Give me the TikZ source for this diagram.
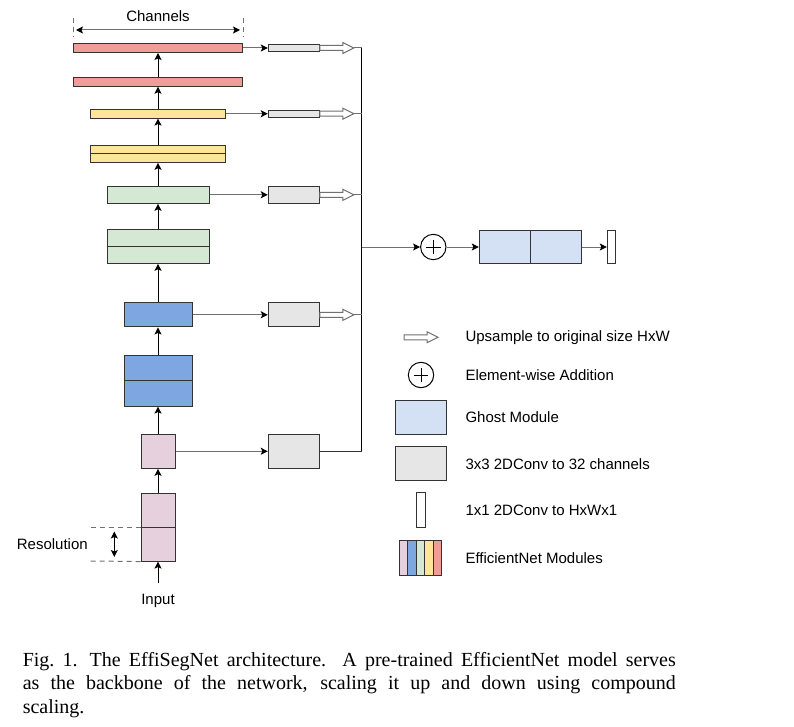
\documentclass[tikz,border=0pt]{standalone}
\usepackage{fontspec}
\setmainfont{Liberation Serif}
\setsansfont{Liberation Sans}
\usepackage{tikz}
\usetikzlibrary{arrows.meta,positioning}
\definecolor{modred}{HTML}{F19C99}
\definecolor{modyellow}{HTML}{FFE599}
\definecolor{modgreen}{HTML}{D5E8D4}
\definecolor{modblue}{HTML}{7EA6E0}
\definecolor{modpink}{HTML}{E6D0DE}
\definecolor{convgrey}{HTML}{E6E6E6}
\definecolor{ghostblue}{HTML}{D4E1F5}
\definecolor{edgegrey}{HTML}{333333}
\definecolor{linkgrey}{HTML}{707070}
\tikzstyle{every node}=[font=\sffamily\fontsize{15}{18}\selectfont]
\tikzstyle{block}=[draw=edgegrey,rectangle,inner sep=0pt]
\tikzstyle{legendtext}=[anchor=west,inner sep=0pt]
\tikzstyle{up}=[-{Stealth[length=7pt,width=7pt,inset=1.5pt]}]
\tikzstyle{link}=[draw=linkgrey,-{Stealth[length=7pt,width=7pt,inset=1.5pt,black]}]
\tikzstyle{guide}=[draw=linkgrey,dashed,dash pattern=on 5pt off 4pt]
\tikzstyle{addop}=[draw,circle,minimum size=25.4pt,inner sep=0pt,
  path picture={\draw ([xshift=-7.3pt]path picture bounding box.center) -- ++(14.6pt,0);
                \draw ([yshift=-7.3pt]path picture bounding box.center) -- ++(0,14.6pt);}]
\tikzset{upsample/.pic={
  \draw[linkgrey,fill=white] (0,-2.5) -- (23,-2.5) -- (23,-5.5) -- (34,0) -- (23,5.5) -- (23,2.5) -- (0,2.5) -- cycle;
  \coordinate (-tip) at (34,0);}}

\begin{document}
\begin{tikzpicture}[x=1pt,y=-1pt,line width=1pt]
  \useasboundingbox (0,0) rectangle (794,727);
  % EfficientNet backbone
  \node[block,fill=modpink,minimum width=34,minimum height=67.7] (p1) at (158,527.2) {};
  \node[block,fill=modpink,minimum width=34,minimum height=34] (p2) at (158,451.3) {};
  \node[block,fill=modblue,minimum width=68,minimum height=50.7] (b1) at (158,380.7) {};
  \node[block,fill=modblue,minimum width=68,minimum height=24.3] (b2) at (158,314.8) {};
  \node[block,fill=modgreen,minimum width=102,minimum height=33.6] (g1) at (158,246.5) {};
  \node[block,fill=modgreen,minimum width=102,minimum height=17] (g2) at (158,194.8) {};
  \node[block,fill=modyellow,minimum width=135.5,minimum height=17] (y1) at (158,153.8) {};
  \node[block,fill=modyellow,minimum width=135.5,minimum height=8.7] (y2) at (158,113.7) {};
  \node[block,fill=modred,minimum width=169,minimum height=9] (r1) at (158,81.7) {};
  \node[block,fill=modred,minimum width=169,minimum height=9] (r2) at (158,48) {};
  \foreach \n in {p1,b1,g1,y1}
    \draw[edgegrey] (\n.west) -- (\n.east);
  \foreach \a/\b in {p1/p2,p2/b1,b1/b2,b2/g1,g1/g2,g2/y1,y1/y2,y2/r1,r1/r2}
    \draw[up] (\a.north) -- (\b.south);
  \coordinate (inp) at (158,583);
  \draw[up] (inp) -- (p1.south);
  \node (inlab) at (158,600.7) {Input};

  % channels and resolution
  \coordinate (chl) at (r2.west |- 0,18);
  \coordinate (chr) at (r2.east |- 0,18);
  \draw[guide] (chl) -- ++(0,19);
  \draw[guide] (chr) -- ++(0,19);
  \draw[draw=linkgrey,{Stealth[length=7pt,width=7pt,inset=1.5pt,black]}-{Stealth[length=7pt,width=7pt,inset=1.5pt,black]}]
    ([xshift=3pt,yshift=-12pt]chl) -- ([xshift=-3pt,yshift=-12pt]chr);
  \node (chlab) at (158,16) {Channels};
  \coordinate (res1) at (90.7,527.2);
  \coordinate (res2) at (90.7,561);
  \draw[guide] (res1) -- (p1.west);
  \draw[guide] (res2) -- (p1.south west);
  \draw[{Stealth[length=7pt,width=7pt,inset=1.5pt]}-{Stealth[length=7pt,width=7pt,inset=1.5pt]}]
    (114.3,531.5) -- (114.3,557);
  \node (reslab) at (52.3,544) {Resolution};

  % 3x3 convolutions and upsampling
  \node[block,fill=convgrey,minimum width=51,minimum height=34] (c1) at (293.8,451.3) {};
  \node[block,fill=convgrey,minimum width=51,minimum height=24.3] (c2) at (293.8,314.8) {};
  \node[block,fill=convgrey,minimum width=51,minimum height=17] (c3) at (293.8,194.8) {};
  \node[block,fill=convgrey,minimum width=51,minimum height=7.3] (c4) at (293.8,113.7) {};
  \node[block,fill=convgrey,minimum width=51,minimum height=7.6] (c5) at (293.8,48) {};
  \foreach \a/\b in {p2/c1,b2/c2,g2/c3,y2/c4,r2/c5}
    \draw[link] (\a.east) -- (\b.west);
  \coordinate (bt) at (361.7,48);
  \coordinate (bb) at (361.7,451.3);
  \draw (bt) -- (bb);
  \foreach \c in {c2,c3,c4,c5} {
    \pic (u\c) at (\c.east) {upsample};
    \draw[linkgrey] (u\c-tip) -- (u\c-tip -| bt);
  }
  \draw[edgegrey] (c1.east) -- (bb);

  % fusion head
  \coordinate (bm) at (361.7,247);
  \node[addop] (add) at (433.3,247) {};
  \node[block,fill=ghostblue,minimum width=102,minimum height=33.6] (gh) at (530.3,247) {};
  \draw[edgegrey] (gh.north) -- (gh.south);
  \node[block,fill=white,minimum width=8,minimum height=33.6] (out) at (611.3,247) {};
  \draw[link] (bm) -- (add.west);
  \draw[link] (add.east) -- (gh.west);
  \draw[link] (gh.east) -- (out.west);

  % legend
  \pic (lup) at (404,337.3) {upsample};
  \node[addop] (ladd) at (421,375) {};
  \node[block,fill=ghostblue,minimum width=51,minimum height=34.3] (lgh) at (421.2,417.2) {};
  \node[block,fill=convgrey,minimum width=51,minimum height=34.3] (lcv) at (420.5,463.8) {};
  \node[block,fill=white,minimum width=9,minimum height=34.6] (lout) at (420.5,510) {};
  \foreach \c [count=\i] in {modpink,modblue,modgreen,modyellow,modred}
    \node[block,fill=\c,minimum width=8.5,minimum height=35] (ls\i) at (395.05+8.5*\i,558.2) {};
  \node[legendtext] (t1) at (465,337.3) {Upsample to original size HxW};
  \node[legendtext] (t2) at (465,375) {Element-wise Addition};
  \node[legendtext] (t3) at (465,417.2) {Ghost Module};
  \node[legendtext] (t4) at (465,463.8) {3x3 2DConv to 32 channels};
  \node[legendtext] (t5) at (465,510) {1x1 2DConv to HxWx1};
  \node[legendtext] (t6) at (465,558.2) {EfficientNet Modules};

  % caption
  \node[anchor=north west,inner sep=0pt,text width=653pt,align=justify,
    font=\rmfamily\fontsize{20}{23.7}\selectfont] (cap) at (22.3,651.5)
    {Fig.~1.\hspace{0.6em}The EffiSegNet architecture. A pre-trained EfficientNet model serves\linebreak
     as the backbone of the network, scaling it up and down using compound\linebreak
     scaling.};
\end{tikzpicture}
\end{document}
